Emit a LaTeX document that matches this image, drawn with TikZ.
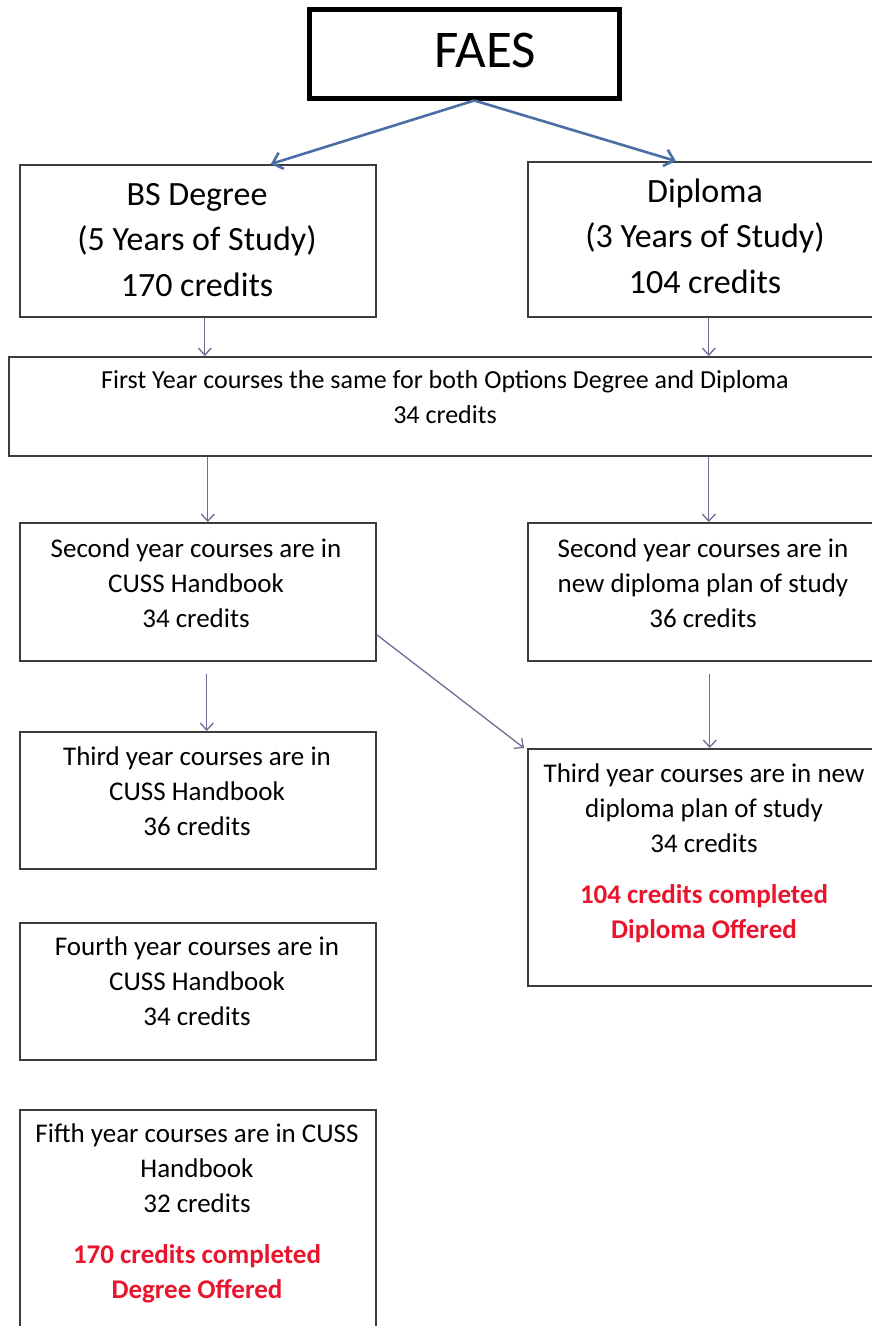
\documentclass[tikz,border=0pt]{standalone}
\usepackage{fontspec}
\setmainfont{Carlito}
\usetikzlibrary{arrows.meta,calc}
\definecolor{boxline}{RGB}{60,60,60}
\definecolor{topblue}{RGB}{75,110,165}
\definecolor{connc}{RGB}{110,110,150}
\definecolor{redtxt}{RGB}{235,20,45}
\begin{document}
\begin{tikzpicture}[x=1pt,y=-1pt,
  box/.style={draw=boxline, line width=1.6pt, fill=white, inner sep=0pt, anchor=north west},
  txt/.style={align=center, inner sep=0pt, anchor=base, font=\fontsize{27}{35}\selectfont},
  conn/.style={draw=connc, line width=1.3pt, -{Straight Barb[length=7pt,width=13pt]}},
  topconn/.style={draw=topblue, line width=2.6pt, -{Straight Barb[length=9pt,width=17pt]}}
]
\useasboundingbox (0,0) rectangle (872,1326);
\clip (0,0) rectangle (872,1326);
\fill[white] (0,0) rectangle (872,1326);

% boxes
\node[box, draw=black, line width=4.5pt, minimum width=310pt, minimum height=89pt] (faes) at (307,7) {};
\node[box, minimum width=356pt, minimum height=152pt] (bs) at (19,164) {};
\node[box, minimum width=360pt, minimum height=155pt] (dip) at (527,161) {};
\node[box, minimum width=880pt, minimum height=99pt] (first) at (8,356) {};
\node[box, minimum width=356pt, minimum height=138pt] (s2l) at (19,522) {};
\node[box, minimum width=360pt, minimum height=138pt] (s2r) at (527,522) {};
\node[box, minimum width=356pt, minimum height=137pt] (t3l) at (19,731) {};
\node[box, minimum width=360pt, minimum height=237pt] (t3r) at (527,748) {};
\node[box, minimum width=356pt, minimum height=137pt] (t4) at (19,922) {};
\node[box, minimum width=356pt, minimum height=240pt] (t5) at (19,1109) {};

% texts (anchor base = baseline of last line)
\node[txt, font=\fontsize{53}{60}\selectfont] (faest) at (485,67) {FAES};
\node[txt, font=\fontsize{34}{45.5}\selectfont] (bst) at (197,296) {BS Degree\\(5 Years of Study)\\170 credits};
\node[txt, font=\fontsize{34}{45.5}\selectfont] (dipt) at (705,293) {Diploma\\(3 Years of Study)\\104 credits};
\node[txt, font=\fontsize{26}{35}\selectfont] (firstt) at (445,423) {First Year courses the same for both Options Degree and Diploma\\34 credits};
\node[txt] (s2lt) at (196,627) {Second year courses are in\\CUSS Handbook\\34 credits};
\node[txt] (s2rt) at (703,627) {Second year courses are in\\new diploma plan of study\\36 credits};
\node[txt] (t3lt) at (197,835) {Third year courses are in\\CUSS Handbook\\36 credits};
\node[txt] (t3rt) at (704,938) {Third year courses are in new\\diploma plan of study\\34 credits\\[16pt]\textcolor{redtxt}{\bfseries 104 credits completed}\\\textcolor{redtxt}{\bfseries Diploma Offered}};
\node[txt] (t4t) at (197,1025) {Fourth year courses are in\\CUSS Handbook\\34 credits};
\node[txt] (t5t) at (197,1298) {Fifth year courses are in CUSS\\Handbook\\32 credits\\[16pt]\textcolor{redtxt}{\bfseries 170 credits completed}\\\textcolor{redtxt}{\bfseries Degree Offered}};

% connectors
\draw[topconn] ([xshift=10pt]faes.south) -- ([xshift=73pt]bs.north);
\draw[topconn] ([xshift=10pt]faes.south) -- ([xshift=-32pt]dip.north);
\draw[conn] ([xshift=7pt]bs.south) -- ([xshift=7pt]bs.south |- first.north);
\draw[conn] ([xshift=1pt]dip.south) -- ([xshift=1pt]dip.south |- first.north);
\draw[conn] ([xshift=10pt]s2l.north |- first.south) -- ([xshift=10pt]s2l.north);
\draw[conn] ([xshift=1pt]s2r.north |- first.south) -- ([xshift=1pt]s2r.north);
\draw[conn] ([xshift=9pt,yshift=-12pt]s2l.south) -- ([xshift=9pt]t3l.north);
\draw[conn] ([xshift=2pt,yshift=-12pt]s2r.south) -- ([xshift=2pt]t3r.north);
\draw[conn] ([yshift=27pt]s2l.south east) -- ([xshift=-3pt]t3r.north west);
\end{tikzpicture}
\end{document}
